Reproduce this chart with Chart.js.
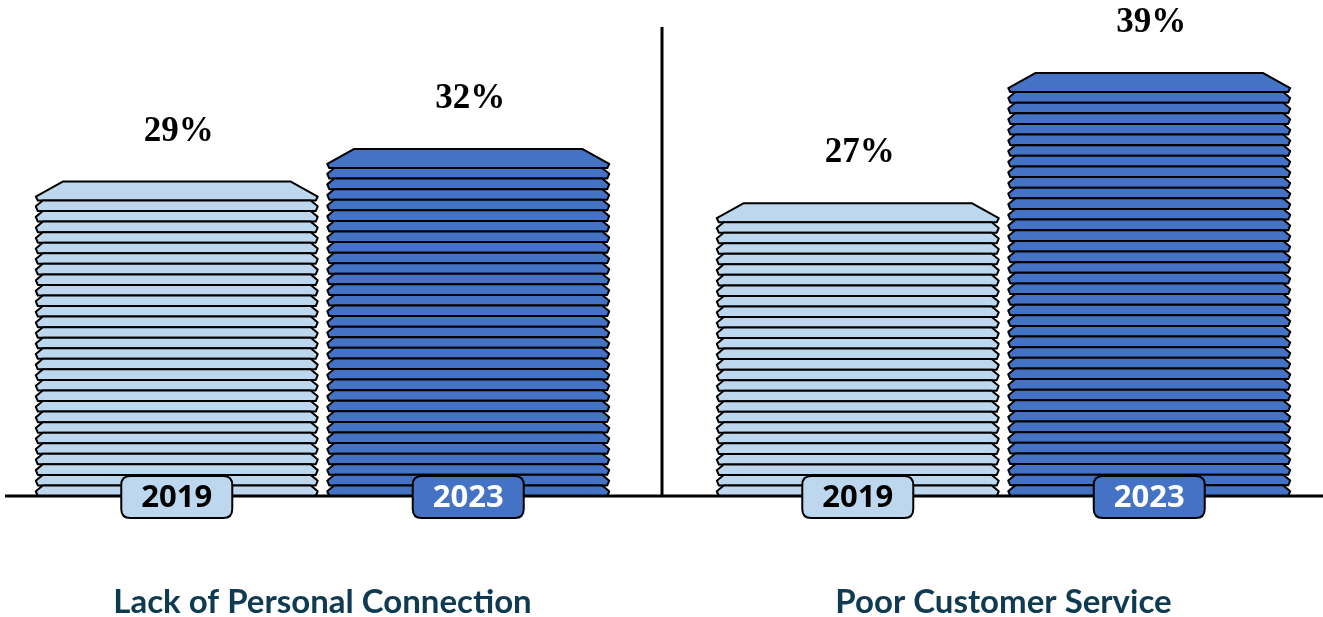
<!DOCTYPE html>
<html>
<head>
<meta charset="utf-8">
<script src="https://cdn.jsdelivr.net/npm/chart.js@4/dist/chart.umd.min.js"></script>
<style>
  html, body { margin: 0; padding: 0; background: #ffffff; overflow: hidden; width: 1323px; height: 617px; }
  #wrap { position: absolute; left: -18px; top: 0; width: 1362px; height: 617px; }
</style>
</head>
<body>
<div id="wrap"><canvas id="c" width="1362" height="617"></canvas></div>
<script>
// ---- data ----
const categories = ['Lack of Personal Connection', 'Poor Customer Service'];
const seriesNames = ['2019', '2023'];
const values2019 = [29, 27];
const values2023 = [32, 39];
const seriesColors = ['#BDD7EE', '#4472C4'];
const yearTextColors = ['#000000', '#ffffff'];
const yMax = 45;

function slab(ctx, L, R, t, h, ins, midFrac, botIns) {
  ctx.beginPath();
  ctx.moveTo(L + ins, t);
  ctx.lineTo(R - ins, t);
  ctx.lineTo(R, t + h * midFrac);
  ctx.lineTo(R - botIns, t + h);
  ctx.lineTo(L + botIns, t + h);
  ctx.lineTo(L, t + h * midFrac);
  ctx.closePath();
  ctx.fill();
  ctx.stroke();
}

function roundRect(ctx, x, y, w, h, r) {
  ctx.beginPath();
  ctx.moveTo(x + r, y);
  ctx.lineTo(x + w - r, y);
  ctx.quadraticCurveTo(x + w, y, x + w, y + r);
  ctx.lineTo(x + w, y + h - r);
  ctx.quadraticCurveTo(x + w, y + h, x + w - r, y + h);
  ctx.lineTo(x + r, y + h);
  ctx.quadraticCurveTo(x, y + h, x, y + h - r);
  ctx.lineTo(x, y + r);
  ctx.quadraticCurveTo(x, y, x + r, y);
  ctx.closePath();
}

const decor = {
  id: 'decor',
  afterDatasetsDraw(chart) {
    const ctx = chart.ctx;
    const xs = chart.scales.x, ys = chart.scales.y;
    const base = ys.getPixelForValue(0);
    ctx.save();
    ctx.lineJoin = 'round';
    // slabs
    chart.data.datasets.forEach((ds, di) => {
      const meta = chart.getDatasetMeta(di);
      meta.data.forEach((bar) => {
        const L = bar.x - bar.width / 2, R = bar.x + bar.width / 2;
        const top = bar.y, bot = bar.base;
        const topH = 19;
        const n = Math.max(1, Math.round((bot - top - topH) / 10.6));
        const p = (bot - top - topH) / n;
        ctx.fillStyle = seriesColors[di];
        ctx.strokeStyle = '#000';
        ctx.lineWidth = 2;
        slab(ctx, L, R, top, topH, 27, 15 / 19, 2);
        for (let k = 0; k < n; k++) {
          slab(ctx, L, R, top + topH + k * p, p, 7, 0.55, 2);
        }
      });
    });
    // baseline
    ctx.strokeStyle = '#000';
    ctx.lineWidth = 3;
    ctx.beginPath();
    ctx.moveTo(23, base);
    ctx.lineTo(chart.width, base);
    ctx.stroke();
    // divider between categories
    const dx = Math.round((xs.getPixelForValue(0) + xs.getPixelForValue(1)) / 2) - 1;
    ctx.beginPath();
    ctx.moveTo(dx, 27);
    ctx.lineTo(dx, base);
    ctx.stroke();
    // value labels and year boxes
    chart.data.datasets.forEach((ds, di) => {
      const meta = chart.getDatasetMeta(di);
      meta.data.forEach((bar, i) => {
        ctx.fillStyle = '#000';
        ctx.font = 'bold 35px "Liberation Serif"';
        ctx.textAlign = 'center';
        ctx.textBaseline = 'alphabetic';
        ctx.fillText(ds.data[i] + '%', bar.x + 2, bar.y - 41);
        // year box
        const bw = 111, bh = 42;
        roundRect(ctx, bar.x - bw / 2, base + 1 - bh / 2, bw, bh, 9);
        ctx.fillStyle = seriesColors[di];
        ctx.fill();
        ctx.lineWidth = 2;
        ctx.strokeStyle = '#000';
        ctx.stroke();
        ctx.fillStyle = yearTextColors[di];
        ctx.font = 'bold 31px "Open Sans"';
        ctx.textBaseline = 'middle';
        ctx.fillText(ds.label, bar.x, base + 2);
      });
    });
    ctx.restore();
  }
};

new Chart(document.getElementById('c'), {
  type: 'bar',
  data: {
    labels: categories,
    datasets: [
      { label: seriesNames[0], data: values2019, backgroundColor: 'rgba(0,0,0,0)', borderWidth: 0 },
      { label: seriesNames[1], data: values2023, backgroundColor: 'rgba(0,0,0,0)', borderWidth: 0 }
    ]
  },
  options: {
    responsive: false,
    devicePixelRatio: 1,
    animation: false,
    layout: { padding: { top: 8, bottom: 0, left: 0, right: 0 } },
    datasets: { bar: { categoryPercentage: 0.856, barPercentage: 0.9674 } },
    plugins: { legend: { display: false }, tooltip: { enabled: false } },
    scales: {
      x: {
        grid: { display: false, drawTicks: false },
        border: { display: false },
        ticks: {
          color: '#0f3b52',
          font: { family: 'Lato', size: 33, weight: 'bold', lineHeight: 1 },
          padding: 90,
          maxRotation: 0
        },
        afterFit(s) { s.height = 121; }
      },
      y: { display: false, min: 0, max: yMax }
    }
  },
  plugins: [decor]
});
</script>
</body>
</html>
